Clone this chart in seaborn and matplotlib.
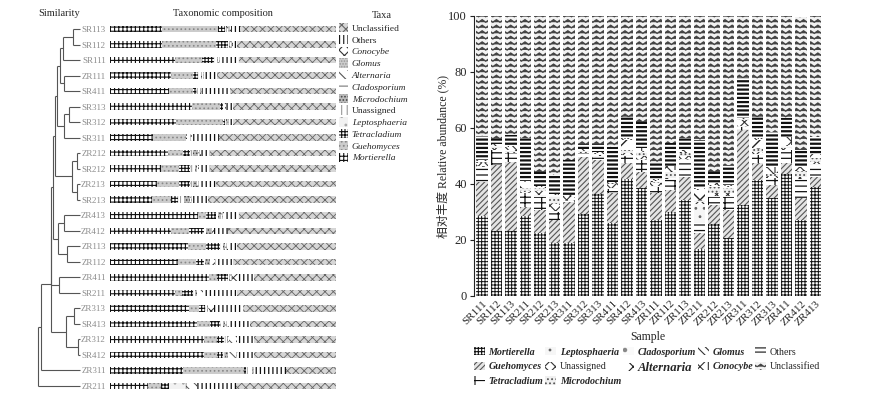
import warnings
warnings.filterwarnings("ignore")
import numpy as np
import pandas as pd
import matplotlib
matplotlib.use("Agg")
import matplotlib.pyplot as plt
import matplotlib.patches as mpatches
import matplotlib.hatch as mhatch
from matplotlib.path import Path
import seaborn as sns

# ---------------- data ----------------
samples = ["SR111", "SR112", "SR113", "SR211", "SR212", "SR213", "SR311", "SR312",
           "SR313", "SR411", "SR412", "SR413", "ZR111", "ZR112", "ZR113", "ZR211",
           "ZR212", "ZR213", "ZR311", "ZR312", "ZR313", "ZR411", "ZR412", "ZR413"]

taxa = ["Mortierella", "Guehomyces", "Tetracladium", "Leptosphaeria", "Unassigned",
        "Microdochium", "Cladosporium", "Alternaria", "Glomus", "Conocybe",
        "Others", "Unclassified"]

Mortierella   = [28.6, 23.2, 23.2, 28.6, 22.5, 18.8, 19.0, 29.2, 36.3, 26.2, 41.8, 38.4,
                 27.1, 30.1, 34.3, 16.8, 25.7, 20.6, 32.5, 41.4, 34.9, 43.6, 27.1, 38.8]
Guehomyces    = [12.2, 23.6, 24.8, 3.3, 8.2, 8.3, 14.7, 20.6, 12.3, 10.5, 5.6, 6.0,
                 9.6, 7.8, 8.3, 5.7, 6.8, 10.1, 26.8, 6.0, 4.7, 3.8, 7.8, 3.8]
Tetracladium  = [5.2, 5.2, 3.0, 4.8, 4.8, 3.0, 0.3, 1.2, 1.2, 1.5, 2.6, 4.2,
                 2.2, 3.5, 6.0, 3.5, 3.0, 4.8, 1.0, 3.0, 2.4, 4.6, 6.5, 4.2]
Leptosphaeria = [0.5, 0.3, 0.2, 0.3, 0.4, 0.3, 0.2, 0.2, 0.2, 0.3, 0.4, 0.3,
                 0.3, 0.3, 0.4, 7.0, 0.3, 0.3, 0.3, 0.4, 0.3, 0.3, 0.3, 0.3]
Unassigned    = [1.0, 0.5, 0.3, 0.5, 1.5, 2.4, 1.0, 0.3, 0.3, 1.5, 0.6, 1.0,
                 1.0, 0.5, 1.0, 0.5, 1.0, 1.0, 2.3, 0.8, 0.6, 0.5, 0.8, 0.6]
Microdochium  = [0.3, 0.4, 0.3, 0.9, 1.1, 2.7, 0.2, 0.2, 0.2, 0.2, 1.0, 1.2,
                 0.4, 2.0, 1.0, 0.4, 2.2, 1.7, 0.2, 0.8, 0.5, 0.4, 2.0, 1.5]
Cladosporium  = [0.2, 0.2, 0.1, 0.2, 0.2, 0.2, 0.1, 0.1, 0.1, 0.1, 0.3, 0.2,
                 0.2, 0.2, 0.2, 0.3, 0.2, 0.2, 0.1, 0.3, 0.2, 0.2, 0.2, 0.2]
Alternaria    = [0.2, 0.2, 0.1, 2.0, 0.2, 0.2, 0.1, 0.1, 0.1, 0.1, 3.5, 0.2,
                 0.3, 0.3, 0.3, 3.7, 0.2, 0.2, 0.1, 3.0, 0.2, 0.2, 0.2, 0.2]
Glomus        = [0.3, 0.5, 1.2, 0.2, 0.2, 0.3, 0.4, 0.6, 0.4, 0.2, 0.2, 0.3,
                 0.3, 0.2, 0.2, 0.2, 0.3, 0.3, 0.2, 0.2, 0.2, 0.2, 0.2, 0.2]
Conocybe      = [0.2, 0.3, 0.3, 0.3, 0.3, 0.2, 0.1, 0.1, 0.2, 0.2, 0.5, 1.0,
                 0.4, 1.5, 0.6, 0.5, 0.5, 0.3, 0.2, 0.5, 2.2, 2.9, 1.0, 0.8]
Others        = [8.3, 1.6, 4.0, 15.3, 5.0, 6.8, 12.3, 1.7, 3.0, 12.5, 7.4, 9.2,
                 5.7, 8.2, 4.1, 17.1, 4.2, 7.3, 14.2, 7.5, 12.5, 6.8, 6.1, 6.3]
Unclassified  = [43.0, 44.0, 42.5, 43.6, 55.6, 56.8, 52.6, 45.7, 45.7, 46.7, 36.1, 38.2,
                 52.5, 45.4, 43.6, 44.3, 55.6, 53.2, 22.1, 36.1, 41.3, 36.5, 47.6, 43.1]

# order of the rows in the clustered (left) panel
left_order = ["SR113", "SR112", "SR111", "ZR111", "SR411", "SR313", "SR312", "SR311",
              "ZR212", "SR212", "ZR213", "SR213", "ZR413", "ZR412", "ZR113", "ZR112",
              "ZR411", "SR211", "ZR313", "SR413", "ZR312", "SR412", "ZR311", "ZR211"]

# dendrogram: (merge distance, left child, right child)
tree = (41.7,
        (39.0,
         (29.2,
          (29.0,
           (27.0,
            (25.0,
             (22.7,
              (20.0, (16.7, (6.7, "SR113", "SR112"), "SR111"), (15.7, "ZR111", "SR411")),
              (15.7, (11.0, "SR313", "SR312"), "SR311")),
             (8.3, (3.3, "ZR212", "SR212"), (3.3, "ZR213", "SR213"))),
            (21.7, (15.7, "ZR413", "ZR412"), (13.3, "ZR113", "ZR112"))),
           (20.7, "ZR411", "SR211")),
          (14.3, (5.7, "ZR313", "SR413"), (1.7, "ZR312", "SR412"))),
         "ZR311"),
        "ZR211")

values = {"Mortierella": Mortierella, "Guehomyces": Guehomyces, "Tetracladium": Tetracladium,
          "Leptosphaeria": Leptosphaeria, "Unassigned": Unassigned, "Microdochium": Microdochium,
          "Cladosporium": Cladosporium, "Alternaria": Alternaria, "Glomus": Glomus,
          "Conocybe": Conocybe, "Others": Others, "Unclassified": Unclassified}
df = pd.DataFrame(values, index=samples)

# ---------------- custom zigzag hatch ----------------
class ZigZagHatch(mhatch.HatchPatternBase):
    def __init__(self, hatch, density):
        self.num_lines = int(hatch.count("z") * density)
        self.periods = max(1, int(self.num_lines * 0.8))
        self.nv = 2 * self.periods + 1
        self.num_vertices = self.num_lines * self.nv

    def set_vertices_and_codes(self, vertices, codes):
        if self.num_lines == 0:
            return
        n = self.nv
        amp = 0.45 / self.num_lines
        xs = np.linspace(0, 1, n)
        off = np.where(np.arange(n) % 2 == 1, amp, 0.0)
        for i in range(self.num_lines):
            y0 = i / self.num_lines
            vertices[i * n:(i + 1) * n, 0] = xs
            vertices[i * n:(i + 1) * n, 1] = y0 + off
            codes[i * n] = Path.MOVETO
            codes[i * n + 1:(i + 1) * n] = Path.LINETO

mhatch._hatch_types.append(ZigZagHatch)

# ---------------- styles ----------------
# (face, hatch colour, hatch, hatch linewidth)
right_style = {
    "Mortierella":   ("white", "#111111", "+++++", 0.7),
    "Guehomyces":    ("#e4e4e4", "#555555", "//////", 0.8),
    "Tetracladium":  ("white", "#111111", "---|", 0.9),
    "Leptosphaeria": ("#f6f6f6", "#666666", "..", 0.8),
    "Unassigned":    ("white", "#333333", "xxx", 0.8),
    "Microdochium":  ("#f0f0f0", "#555555", "....", 0.8),
    "Cladosporium":  ("#fafafa", "#888888", ".", 0.8),
    "Alternaria":    ("white", "#222222", "x", 1.0),
    "Glomus":        ("white", "#333333", "\\\\\\\\", 0.8),
    "Conocybe":      ("white", "#333333", "xx|", 0.8),
    "Others":        ("white", "#111111", "----", 1.6),
    "Unclassified":  ("#f2f2f2", "#444444", "zzz", 1.0),
}
left_style = {
    "Mortierella":   ("white", "#111111", "++++", 0.8),
    "Guehomyces":    ("#cccccc", "#888888", "....", 0.7),
    "Tetracladium":  ("white", "#111111", "+++++", 0.8),
    "Leptosphaeria": ("#f2f2f2", "#aaaaaa", "..", 0.7),
    "Unassigned":    ("white", "#999999", "|||", 0.7),
    "Microdochium":  ("#bbbbbb", "#444444", ".....", 0.7),
    "Cladosporium":  ("white", "#777777", "---", 0.7),
    "Alternaria":    ("white", "#555555", "\\\\\\", 0.7),
    "Glomus":        ("#cccccc", "#999999", "......", 0.7),
    "Conocybe":      ("white", "#333333", "xxx", 0.7),
    "Others":        ("white", "#111111", "||||", 0.9),
    "Unclassified":  ("#d6d6d6", "#666666", "xxxx", 0.6),
}
plain = {"Unassigned", "Others", "Unclassified"}

sns.set_theme(style="white")
plt.rcParams["font.family"] = ["Liberation Serif", "Noto Sans CJK SC"]
plt.rcParams["hatch.linewidth"] = 0.8

W, H = 887, 397
fig = plt.figure(figsize=(W / 100, H / 100), dpi=100)

def fx(px):
    return px / W

def fy(px):
    return 1 - px / H

# ---------------- left panel ----------------
top_px, bot_px = 21.25, 393.75
axl = fig.add_axes([fx(110), fy(bot_px), fx(336) - fx(110), (bot_px - top_px) / H])
axd = fig.add_axes([fx(30), fy(bot_px), fx(82) - fx(30), (bot_px - top_px) / H])

dfl = df.loc[left_order]
left_cum = np.zeros(len(left_order))
for t in taxa:
    face, hc, h, hlw = left_style[t]
    vals = dfl[t].values
    n0 = len(axl.patches)
    sns.barplot(x=vals, y=left_order, order=left_order, orient="y", ax=axl,
                color=face, edgecolor=hc, hatch=h, linewidth=0, width=0.42,
                errorbar=None, saturation=1, left=left_cum.copy())
    for p in axl.patches[n0:]:
        if hasattr(p, "set_hatch_linewidth"):
            p.set_hatch_linewidth(hlw)
    left_cum += vals

axl.set_xlim(0, 100)
axl.set_ylim(len(left_order) - 0.5, -0.5)
axl.set_xlabel("")
axl.set_ylabel("")
axl.set_xticks([])
for s in axl.spines.values():
    s.set_visible(False)
axl.tick_params(axis="y", length=0, pad=3, labelsize=6.5, labelcolor="#8c8c8c")

# dendrogram
def draw_node(node):
    if isinstance(node, str):
        return 0.0, left_order.index(node)
    h, a, b = node
    ha, ya = draw_node(a)
    hb, yb = draw_node(b)
    kw = dict(color="#555555", lw=0.8, solid_capstyle="butt")
    axd.plot([ha, h], [ya, ya], **kw)
    axd.plot([hb, h], [yb, yb], **kw)
    axd.plot([h, h], [ya, yb], **kw)
    return h, (ya + yb) / 2

draw_node(tree)
axd.set_xlim(50, -2)
axd.set_ylim(len(left_order) - 0.5, -0.5)
axd.axis("off")

fig.text(fx(59), fy(14), "Similarity", ha="center", va="center", fontsize=7.5)
fig.text(fx(223), fy(14), "Taxonomic composition", ha="center", va="center", fontsize=7.5)
fig.text(fx(382), fy(16), "Taxa", ha="center", va="center", fontsize=7.5)

lh = [mpatches.Patch(facecolor=left_style[t][0], edgecolor=left_style[t][1],
                     hatch=left_style[t][2], linewidth=0) for t in taxa[::-1]]
legl = fig.legend(lh, taxa[::-1], loc="upper left", bbox_to_anchor=(fx(339), fy(23)),
                  frameon=False, fontsize=6.8, handlelength=1.0, handleheight=1.15,
                  handletextpad=0.35, labelspacing=0.2, borderpad=0, borderaxespad=0)
for txt in legl.get_texts():
    if txt.get_text() not in plain:
        txt.set_fontstyle("italic")

# ---------------- right panel ----------------
axr = fig.add_axes([fx(474), fy(296), fx(822) - fx(474), (296 - 16) / H])
bottom = np.zeros(len(samples))
for t in taxa:
    face, hc, h, hlw = right_style[t]
    vals = df[t].values
    n0 = len(axr.patches)
    sns.barplot(x=samples, y=vals, order=samples, ax=axr, color=face, edgecolor=hc,
                hatch=h, linewidth=0, width=0.8, errorbar=None, saturation=1,
                bottom=bottom.copy())
    for p in axr.patches[n0:]:
        if hasattr(p, "set_hatch_linewidth"):
            p.set_hatch_linewidth(hlw)
    bottom += vals

axr.set_xlim(-0.55, 23.45)
axr.set_ylim(0, 100)
axr.set_yticks([0, 20, 40, 60, 80, 100])
sns.despine(ax=axr, top=True, right=True, bottom=True)
axr.spines["left"].set_color("#222222")
axr.spines["left"].set_linewidth(0.8)
axr.tick_params(axis="y", left=True, length=3, width=0.8, color="#222222",
                labelsize=9, pad=2)
axr.tick_params(axis="x", length=0, labelsize=8, pad=2)
plt.setp(axr.get_xticklabels(), rotation=45, ha="right", rotation_mode="anchor")
axr.set_xlabel("Sample", fontsize=8.5)
axr.xaxis.set_label_coords(0.5, -0.125)
axr.set_ylabel("相对丰度 Relative abundance (%)", fontsize=8.5)
axr.yaxis.set_label_coords(-0.072, 0.5)

rh = [mpatches.Patch(facecolor=right_style[t][0], edgecolor=right_style[t][1],
                     hatch=right_style[t][2], linewidth=0) for t in taxa]
legr = fig.legend(rh, taxa, ncol=5, loc="upper left", bbox_to_anchor=(fx(474), fy(347)),
                  frameon=False, prop={"size": 7.2, "weight": "bold", "style": "italic"},
                  handlelength=1.1, handleheight=0.9, handletextpad=0.35,
                  columnspacing=0.2, labelspacing=0.5, borderpad=0, borderaxespad=0)
for txt in legr.get_texts():
    if txt.get_text() in plain:
        txt.set_fontweight("normal")
        txt.set_fontstyle("normal")
    if txt.get_text() == "Alternaria":
        txt.set_fontsize(9.2)

fig.savefig("out.png", dpi=100)
